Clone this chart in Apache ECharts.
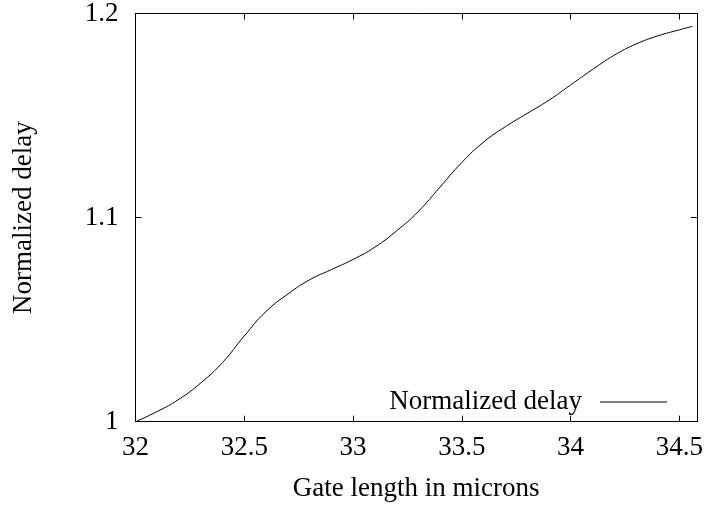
<!DOCTYPE html>
<html>
<head>
<meta charset="utf-8">
<script src="https://cdn.jsdelivr.net/npm/echarts@6/dist/echarts.min.js"></script>
<style>html,body{margin:0;padding:0;background:#fff}#c{width:706px;height:510px}</style>
</head>
<body>
<div id="c"></div>
<script>
const gateLength = [32.0, 32.1, 32.2, 32.3, 32.4, 32.5, 32.6, 32.7, 32.8, 32.9, 33.0, 33.1, 33.2, 33.3, 33.4, 33.5, 33.6, 33.7, 33.8, 33.9, 34.0, 34.1, 34.2, 34.3, 34.4, 34.5, 34.56];
const normalizedDelay = [1.000, 1.0050, 1.0110, 1.0190, 1.029, 1.042, 1.054, 1.0625, 1.0695, 1.0745, 1.0795, 1.0855, 1.0935, 1.103, 1.115, 1.127, 1.137, 1.1445, 1.151, 1.1575, 1.165, 1.1725, 1.1795, 1.1850, 1.1890, 1.1920, 1.1937];
const seriesName = 'Normalized delay';
const xTitle = 'Gate length in microns';
const yTitle = 'Normalized delay';

const FONT = 'Liberation Serif';
const FS = 27;
const chart = echarts.init(document.getElementById('c'), null, {renderer: 'canvas'});
const frameAxisX = {
  min: 32, max: 34.58, interval: 0.5, type: 'value',
  axisLine: {show: true, onZero: false, lineStyle: {color: '#000', width: 1}},
  axisTick: {show: true, inside: true, length: 6, lineStyle: {color: '#000'}},
  splitLine: {show: false}
};
const frameAxisY = {
  min: 1, max: 1.2, interval: 0.1, type: 'value',
  axisLine: {show: true, onZero: false, lineStyle: {color: '#000', width: 1}},
  axisTick: {show: true, inside: true, length: 6, lineStyle: {color: '#000'}},
  splitLine: {show: false}
};
chart.setOption({
  animation: false,
  backgroundColor: '#fff',
  grid: {left: 135.5, right: 9, top: 11.7, bottom: 88.3, containLabel: false},
  xAxis: [
    Object.assign({}, frameAxisX, {
      position: 'bottom',
      name: xTitle, nameLocation: 'middle', nameGap: 54,
      nameTextStyle: {fontFamily: FONT, fontSize: FS, color: '#000'},
      axisLabel: {show: true, margin: 13, fontFamily: FONT, fontSize: FS, color: '#000',
        showMinLabel: true, showMaxLabel: true,
        formatter: v => (Math.abs(v * 2 - Math.round(v * 2)) < 1e-6) ? String(+v.toFixed(1)) : ''}
    }),
    Object.assign({}, frameAxisX, {position: 'top', axisLabel: {show: false}})
  ],
  yAxis: [
    Object.assign({}, frameAxisY, {
      position: 'left',
      name: yTitle, nameLocation: 'middle', nameGap: 98, nameRotate: 90,
      nameTextStyle: {fontFamily: FONT, fontSize: FS, color: '#000'},
      axisLabel: {show: true, margin: 17, fontFamily: FONT, fontSize: FS, color: '#000',
        formatter: v => String(+v.toFixed(2))}
    }),
    Object.assign({}, frameAxisY, {position: 'right', axisLabel: {show: false}})
  ],
  legend: {
    show: true, right: 39, top: 388.5, padding: 0, align: 'right',
    itemWidth: 67, itemHeight: 1, icon: 'rect',
    textStyle: {fontFamily: FONT, fontSize: FS, color: '#000', lineHeight: 27, padding: [0, 13, 0, 0]},
    data: [seriesName]
  },
  series: [{
    name: seriesName, type: 'line', smooth: 0.5, showSymbol: false, symbol: 'none',
    xAxisIndex: 0, yAxisIndex: 0,
    lineStyle: {color: '#000', width: 1}, itemStyle: {color: '#000'},
    data: gateLength.map((x, i) => [x, normalizedDelay[i]])
  }]
});
</script>
</body>
</html>
